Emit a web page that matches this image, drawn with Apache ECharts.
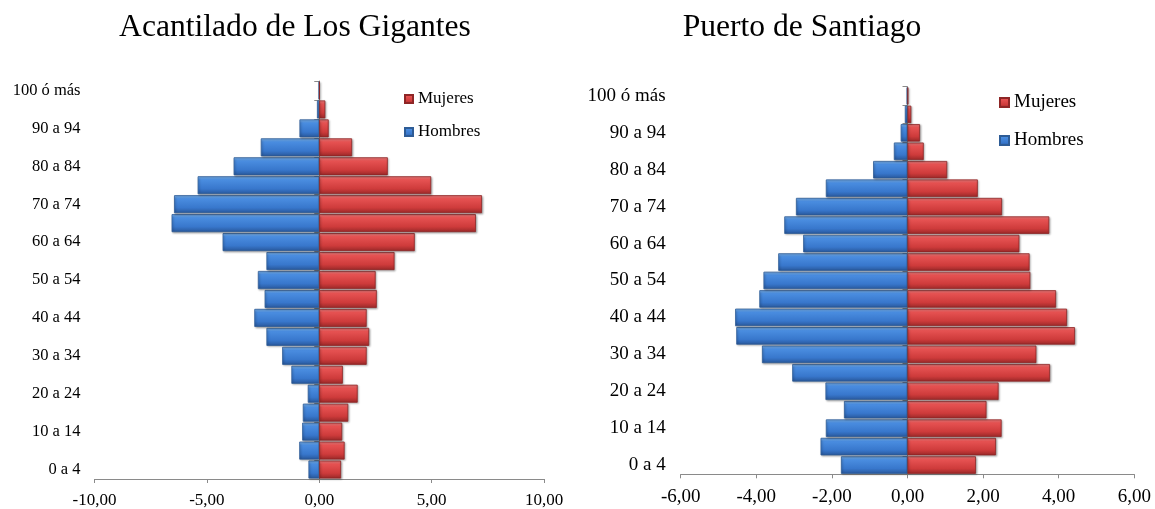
<!DOCTYPE html>
<html>
<head>
<meta charset="utf-8">
<script src="https://cdn.jsdelivr.net/npm/echarts@6/dist/echarts.min.js"></script>
<style>
html,body{margin:0;padding:0;background:#fff;}
#c{width:1155px;height:509px;}
</style>
</head>
<body>
<div id="c"></div>
<script>
// Age groups (bottom to top)
const categories = ['0 a 4','5 a 9','10 a 14','15 a 19','20 a 24','25 a 29','30 a 34','35 a 39','40 a 44','45 a 49','50 a 54','55 a 59','60 a 64','65 a 69','70 a 74','75 a 79','80 a 84','85 a 89','90 a 94','95 a 99','100 ó más'];

// Acantilado de Los Gigantes (%)
const gigantesHombres = [-0.48,-0.89,-0.76,-0.73,-0.51,-1.24,-1.65,-2.35,-2.89,-2.43,-2.73,-2.35,-4.30,-6.57,-6.46,-5.41,-3.81,-2.60,-0.88,-0.10,-0.02];
const gigantesMujeres = [0.97,1.13,1.02,1.29,1.71,1.05,2.11,2.22,2.11,2.56,2.51,3.35,4.25,6.97,7.24,4.98,3.05,1.46,0.42,0.27,0.02];

// Puerto de Santiago (%)
const santiagoHombres = [-1.76,-2.30,-2.16,-1.68,-2.17,-3.05,-3.85,-4.53,-4.56,-3.92,-3.81,-3.42,-2.76,-3.26,-2.95,-2.16,-0.91,-0.36,-0.18,-0.07,-0.02];
const santiagoMujeres = [1.81,2.34,2.49,2.09,2.41,3.77,3.41,4.43,4.22,3.93,3.25,3.23,2.96,3.75,2.50,1.86,1.05,0.43,0.33,0.10,0.02];

const titles = ['Acantilado de Los Gigantes','Puerto de Santiago'];
const legendNames = ['Mujeres','Hombres'];

const FONT = "'Liberation Serif','Times New Roman',serif";
const fmt = v => v.toFixed(2).replace('.', ',');

const blueFill = {type:'linear',x:0,y:0,x2:0,y2:1,colorStops:[
  {offset:0,color:'#7FB8F2'},{offset:0.2,color:'#4A8DE0'},{offset:0.7,color:'#3877CC'},{offset:1,color:'#28579A'}]};
const redFill = {type:'linear',x:0,y:0,x2:0,y2:1,colorStops:[
  {offset:0,color:'#F78484'},{offset:0.2,color:'#E65252'},{offset:0.7,color:'#CE3B3B'},{offset:1,color:'#982828'}]};

function barSeries(name, data, idx, fill, border){
  return {
    name:name, type:'bar', data:data,
    xAxisIndex:idx, yAxisIndex:idx*2,
    barGap:'-100%', barCategoryGap:'5%',
    itemStyle:{color:fill, borderColor:border, borderWidth:0.8,
      shadowColor:'rgba(0,0,0,0.3)', shadowBlur:2, shadowOffsetX:1, shadowOffsetY:1},
    emphasis:{disabled:true}, animation:false
  };
}

function labelAxis(gi, fs, margin){
  return {type:'category', gridIndex:gi, data:categories, position:'left',
    axisLine:{show:false, onZero:false}, axisTick:{show:false},
    axisLabel:{interval:1, margin:margin, color:'#000', fontSize:fs, fontFamily:FONT}};
}
function zeroAxis(gi){
  return {type:'category', gridIndex:gi, data:categories, position:'left',
    axisLine:{show:true, onZero:true, lineStyle:{color:'#8a8a8a', width:1}},
    axisTick:{show:true, interval:0, length:5, lineStyle:{color:'#8a8a8a'}},
    axisLabel:{show:false}, splitLine:{show:false}};
}
function valAxis(gi, min, max, interval, fs, margin){
  return {type:'value', gridIndex:gi, min:min, max:max, interval:interval,
    axisLine:{show:true, onZero:false, lineStyle:{color:'#8a8a8a', width:1}},
    axisTick:{show:true, length:4, lineStyle:{color:'#8a8a8a'}},
    splitLine:{show:false},
    axisLabel:{formatter:fmt, margin:margin, color:'#000', fontSize:fs, fontFamily:FONT}};
}

const chart = echarts.init(document.getElementById('c'), null, {renderer:'canvas'});
chart.setOption({
  backgroundColor:'#fff',
  animation:false,
  graphic:[
    {type:'text', x:295, y:28, style:{text:titles[0], textAlign:'center', textVerticalAlign:'middle', fontSize:31.6, fontFamily:FONT, fill:'#000'}},
    {type:'text', x:802, y:28, style:{text:titles[1], textAlign:'center', textVerticalAlign:'middle', fontSize:31.6, fontFamily:FONT, fill:'#000'}}
  ],
  grid:[
    {left:94.5, top:81, width:449.5, height:398.3},
    {left:680.7, top:86.7, width:453.6, height:387.6}
  ],
  legend:[
    {data:legendNames, orient:'vertical', left:404, top:89, padding:0, itemWidth:8, itemHeight:8, itemGap:13,
      icon:'rect', textStyle:{fontSize:17, lineHeight:20, fontFamily:FONT, color:'#000'}, selectedMode:false},
    {data:legendNames, orient:'vertical', left:999, top:91.5, padding:0, itemWidth:9, itemHeight:9, itemGap:16,
      icon:'rect', textStyle:{fontSize:19, lineHeight:22, fontFamily:FONT, color:'#000'}, selectedMode:false}
  ],
  xAxis:[
    valAxis(0, -10, 10, 5, 17, 13),
    valAxis(1, -6, 6, 2, 19, 13)
  ],
  yAxis:[
    labelAxis(0, 16.5, 14),
    zeroAxis(0),
    labelAxis(1, 19, 15),
    zeroAxis(1)
  ],
  series:[
    barSeries('Hombres', gigantesHombres, 0, blueFill, '#2E5C96'),
    barSeries('Mujeres', gigantesMujeres, 0, redFill, '#8E2626'),
    barSeries('Hombres', santiagoHombres, 1, blueFill, '#2E5C96'),
    barSeries('Mujeres', santiagoMujeres, 1, redFill, '#8E2626')
  ]
});
</script>
</body>
</html>
